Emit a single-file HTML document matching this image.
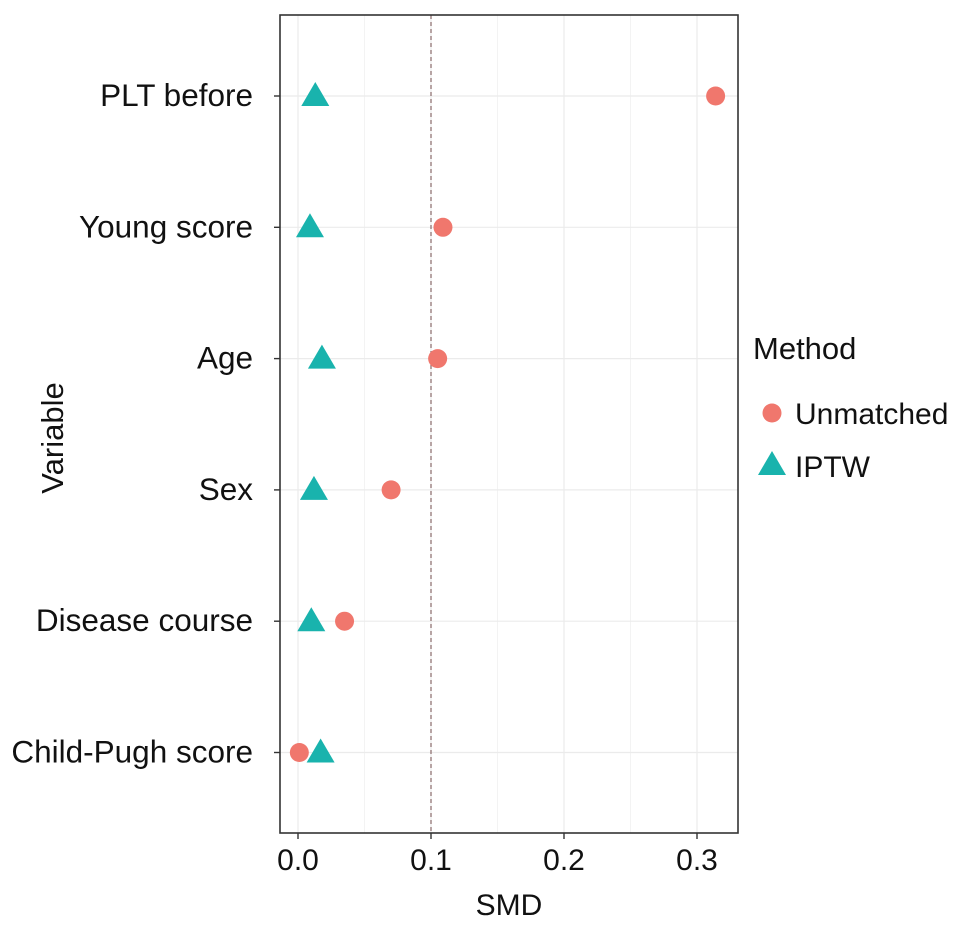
<!DOCTYPE html>
<html><head><meta charset="utf-8"><style>body{margin:0;background:#fff}svg{display:block}text{font-family:"Liberation Sans",sans-serif;fill:#111}</style></head>
<body>
<svg id="c" width="969" height="927"></svg>
<script>
const categories=["PLT before","Young score","Age","Sex","Disease course","Child-Pugh score"];
const unmatched=[0.314,0.109,0.105,0.070,0.035,0.001];
const iptw=[0.013,0.009,0.018,0.012,0.010,0.017];
const xTicks=[0.0,0.1,0.2,0.3];
const xTickLabels=["0.0","0.1","0.2","0.3"];
const threshold=0.1;
const L=280,R=738,T=15,B=833;
const x=v=>298+v*1330;
const y=i=>96+i*131.3;
const s=document.getElementById('c'),NS='http://www.w3.org/2000/svg';
function mk(t,a,p){const e=document.createElementNS(NS,t);for(const k in a)e.setAttribute(k,a[k]);(p||s).appendChild(e);return e;}
let g;
for(let v=0;v<=0.3001;v+=0.05){
 g=mk('line',{x1:x(v),x2:x(v),y1:T,y2:B,stroke:'#ebebeb','stroke-width':Math.round(v*100)%10===0?1.2:0.6});
 
}
categories.forEach((c,i)=>{
 g=mk('line',{x1:L,x2:R,y1:y(i),y2:y(i),stroke:'#ebebeb','stroke-width':1.2});
 
});
g=mk('line',{x1:x(threshold),x2:x(threshold),y1:T,y2:B,stroke:'#8a6a6a','stroke-width':1.2,'stroke-dasharray':'4,3'});

g=mk('rect',{x:L,y:T,width:R-L,height:B-T,fill:'none',stroke:'#333','stroke-width':1.6});

categories.forEach((c,i)=>{
 g=mk('line',{x1:L-6,x2:L,y1:y(i),y2:y(i),stroke:'#333','stroke-width':1.4});
 
 g=mk('text',{x:253,y:y(i)+10,'text-anchor':'end','font-size':31.5});g.textContent=c;
 
});
xTicks.forEach((v,i)=>{
 g=mk('line',{x1:x(v),x2:x(v),y1:B,y2:B+6,stroke:'#333','stroke-width':1.4});
 
 g=mk('text',{x:x(v),y:B+37,'text-anchor':'middle','font-size':30});g.textContent=xTickLabels[i];
 
});
g=mk('text',{x:(L+R)/2,y:915,'text-anchor':'middle','font-size':30});g.textContent='SMD';

g=mk('text',{x:0,y:0,'text-anchor':'middle','font-size':31,transform:'translate(63,438) rotate(-90)'});g.textContent='Variable';

function tri(cx,cy,p,col){return mk('polygon',{points:`${cx},${cy-13} ${cx-14},${cy+11} ${cx+14},${cy+11}`,fill:col},p);}
unmatched.forEach((v,i)=>{
 g=mk('circle',{cx:x(v),cy:y(i),r:9.5,fill:'#f0776d'});
 
});
iptw.forEach((v,i)=>{
 g=tri(x(v),y(i)-1,s,'#19b3ad');
 
});
g=mk('text',{x:753,y:359,'font-size':31});g.textContent='Method';

g=mk('circle',{cx:772,cy:413,r:9.5,fill:'#f0776d'});

g=mk('text',{x:795,y:424,'font-size':30});g.textContent='Unmatched';

g=tri(772,464,s,'#19b3ad');

g=mk('text',{x:795,y:477,'font-size':30});g.textContent='IPTW';

</script>
</body></html>
